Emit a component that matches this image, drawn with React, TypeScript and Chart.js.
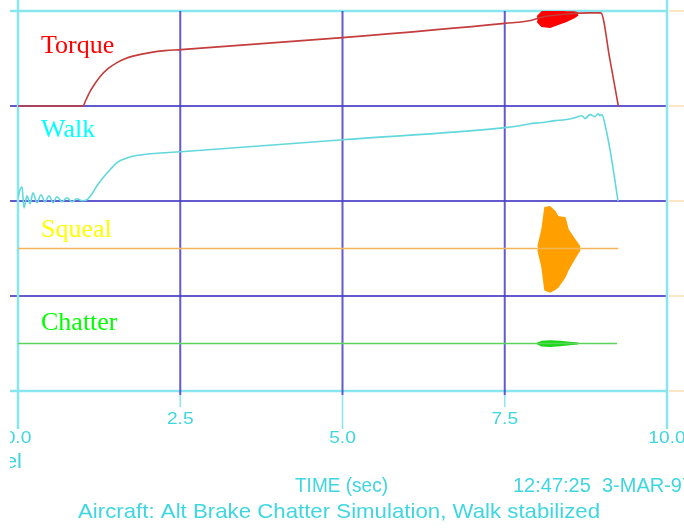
import React, { useEffect, useRef } from "react";
import { Chart, registerables } from "chart.js";

Chart.register(...registerables);

// ---- axis / layout data ----
const timeTicks = [0, 2.5, 5, 7.5, 10];
const timeTickLabels = ["0.0", "2.5", "5.0", "7.5", "10.0"];
const bandEdges = [0, 1, 2, 3, 4];
const seriesNames = ["Torque", "Walk", "Squeal", "Chatter"];
const seriesLabelColors = ["#ff0000", "#00ffff", "#ffff00", "#00ff00"];

// ---- Torque (band 3..4) ----
const torqueTime = [0, 1.0, 1.048, 1.109, 1.186, 1.263, 1.387, 1.525, 1.649, 1.772, 2.034, 2.265, 2.512, 5.0, 7.5, 7.9, 8.1, 8.5, 8.8, 8.98, 9.12, 9.25];
const torqueValue = [3.0, 3.0, 3.066, 3.151, 3.235, 3.309, 3.393, 3.456, 3.498, 3.525, 3.562, 3.583, 3.593, 3.72, 3.87, 3.9, 3.94, 3.97, 3.98, 3.98, 3.49, 3.0];
const torqueBurstTime = [8.0, 8.07, 8.2, 8.32, 8.44, 8.57, 8.63];
const torqueBurstUpper = [3.94, 3.99, 4.0, 4.0, 3.99, 3.99, 3.98];
const torqueBurstLower = [3.89, 3.84, 3.83, 3.86, 3.89, 3.93, 3.96];

// ---- Walk (band 2..3) ----
const walkTime = [0, 0.031, 0.062, 0.092, 0.139, 0.185, 0.231, 0.293, 0.354, 0.416, 0.478, 0.539, 0.601, 0.678, 0.755, 0.832, 0.909, 0.986, 1.063, 1.14, 1.217, 1.31, 1.418, 1.525, 1.649, 1.803, 2.034, 2.265, 2.512, 5.008, 7.504, 7.735, 7.889, 8.043, 8.274, 8.428, 8.582, 8.69, 8.736, 8.814, 8.891, 8.937, 8.968, 8.998, 9.045, 9.122, 9.184, 9.245];
const walkValue = [2.034, 2.118, 2.15, 1.928, 2.055, 1.971, 2.087, 1.982, 2.066, 1.992, 2.055, 1.982, 2.045, 1.992, 2.034, 1.992, 2.023, 2.003, 2.013, 2.076, 2.16, 2.244, 2.329, 2.403, 2.445, 2.476, 2.497, 2.508, 2.519, 2.645, 2.772, 2.793, 2.814, 2.824, 2.846, 2.856, 2.877, 2.898, 2.867, 2.909, 2.888, 2.919, 2.898, 2.909, 2.803, 2.54, 2.277, 2.0];

// ---- Squeal (band 1..2) ----
const squealTime = [0, 9.25];
const squealValue = [1.5, 1.5];
const squealBurstTime = [8.012, 8.074, 8.12, 8.197, 8.274, 8.32, 8.398, 8.428, 8.475, 8.582, 8.659];
const squealBurstUpper = [1.517, 1.697, 1.929, 1.939, 1.886, 1.834, 1.826, 1.823, 1.697, 1.591, 1.517];
const squealBurstLower = [1.486, 1.307, 1.064, 1.043, 1.07, 1.096, 1.17, 1.2, 1.275, 1.402, 1.486];

// ---- Chatter (band 0..1) ----
const chatterTime = [0, 9.23];
const chatterValue = [0.5, 0.5];
const chatterBurstTime = [8.0, 8.07, 8.2, 8.35, 8.5, 8.63];
const chatterBurstUpper = [0.5, 0.52, 0.526, 0.52, 0.51, 0.503];
const chatterBurstLower = [0.5, 0.476, 0.472, 0.48, 0.49, 0.497];

// ---- footer texts ----
const axisTitle = "TIME (sec)";
const stampText = "12:47:25  3-MAR-97";
const captionText = "Aircraft: Alt Brake Chatter Simulation, Walk stabilized";
const leftCutText = "el";

const pts = (xs: number[], ys: number[]) => xs.map((x, i) => ({ x, y: ys[i] }));

const PURPLE = "rgba(72,62,196,0.85)";
const CYAN_LINE = "#8ae6ee";
const CYAN_TEXT = "#3fd6e0";

function drawText(
  ctx: CanvasRenderingContext2D,
  text: string,
  x: number,
  y: number,
  font: string,
  color: string,
  scaleX: number,
  align: CanvasTextAlign,
  baseline: CanvasTextBaseline
) {
  ctx.save();
  ctx.translate(x, y);
  ctx.scale(scaleX, 1);
  ctx.font = font;
  ctx.fillStyle = color;
  ctx.textAlign = align;
  ctx.textBaseline = baseline;
  ctx.fillText(text, 0, 0);
  ctx.restore();
}

function fitScale(ctx: CanvasRenderingContext2D, text: string, font: string, width: number) {
  ctx.save();
  ctx.font = font;
  const w = ctx.measureText(text).width;
  ctx.restore();
  return width / w;
}

const gridPlugin = {
  id: "gridPlugin",
  beforeDatasetsDraw(chart: any) {
    const ctx: CanvasRenderingContext2D = chart.ctx;
    const xs = chart.scales.x;
    const ys = chart.scales.y;
    const right = xs.getPixelForValue(10);
    const bottom = ys.getPixelForValue(0);
    const top = ys.getPixelForValue(4);
    ctx.save();
    bandEdges.forEach((v) => {
      const y = ys.getPixelForValue(v);
      const edge = v === 0 || v === 4;
      ctx.strokeStyle = edge ? CYAN_LINE : PURPLE;
      ctx.lineWidth = edge ? 2.5 : 2;
      ctx.beginPath();
      ctx.moveTo(10, y);
      ctx.lineTo(right, y);
      ctx.stroke();
      ctx.strokeStyle = "rgba(245,200,120,0.6)";
      ctx.lineWidth = 1.5;
      ctx.beginPath();
      ctx.moveTo(right + 2, y);
      ctx.lineTo(684, y);
      ctx.stroke();
    });
    timeTicks.forEach((t, i) => {
      const x = xs.getPixelForValue(t);
      const edge = t === 0 || t === 10;
      const major = i % 2 === 0;
      const tickEnd = major ? bottom + 38 : bottom + 16;
      if (edge) {
        ctx.strokeStyle = CYAN_LINE;
        ctx.lineWidth = 2.5;
        ctx.beginPath();
        ctx.moveTo(x, 0);
        ctx.lineTo(x, tickEnd);
        ctx.stroke();
      } else {
        ctx.strokeStyle = PURPLE;
        ctx.lineWidth = 2;
        ctx.beginPath();
        ctx.moveTo(x, top);
        ctx.lineTo(x, bottom + 4);
        ctx.stroke();
        ctx.strokeStyle = CYAN_LINE;
        ctx.lineWidth = 1.5;
        ctx.beginPath();
        ctx.moveTo(x, bottom + 4);
        ctx.lineTo(x, tickEnd);
        ctx.stroke();
      }
    });
    ctx.restore();
  },
  afterDraw(chart: any) {
    const ctx: CanvasRenderingContext2D = chart.ctx;
    const xs = chart.scales.x;
    const ys = chart.scales.y;
    const bottom = ys.getPixelForValue(0);
    ctx.save();
    ctx.beginPath();
    ctx.rect(10, 0, 684, 529);
    ctx.clip();
    const serif = '26px "Liberation Serif", "Times New Roman", serif';
    const nameOffsets = [42, 31, 36, 34];
    seriesNames.forEach((name, i) => {
      const bandTop = ys.getPixelForValue(4 - i);
      drawText(ctx, name, 41, bandTop + nameOffsets[i], serif, seriesLabelColors[i], 1, "left", "alphabetic");
    });
    const tickFont = '16px "Liberation Sans", Arial, sans-serif';
    timeTicks.forEach((t, i) => {
      const x = xs.getPixelForValue(t);
      const y = i % 2 === 0 ? bottom + 48 : bottom + 29;
      drawText(ctx, timeTickLabels[i], x, y, tickFont, CYAN_TEXT, 1.2, "center", "middle");
    });
    const sans = '20px "Liberation Sans", Arial, sans-serif';
    drawText(ctx, leftCutText, 22, bottom + 71, sans, CYAN_TEXT, 1.1, "right", "middle");
    drawText(ctx, axisTitle, 295, bottom + 95, sans, CYAN_TEXT, fitScale(ctx, axisTitle, sans, 93), "left", "middle");
    drawText(ctx, stampText, 513, bottom + 95, sans, CYAN_TEXT, 1.0, "left", "middle");
    const cap = '21px "Liberation Sans", Arial, sans-serif';
    drawText(ctx, captionText, 78, bottom + 121, cap, CYAN_TEXT, fitScale(ctx, captionText, cap, 522), "left", "middle");
    ctx.restore();
  },
};

export default function App() {
  const ref = useRef<HTMLCanvasElement | null>(null);
  useEffect(() => {
    if (!ref.current) return;
    const line = (data: any, color: string, width: number, extra: any = {}) => ({
      data,
      borderColor: color,
      backgroundColor: color,
      borderWidth: width,
      pointRadius: 0,
      showLine: true,
      tension: 0,
      fill: false,
      ...extra,
    });
    const smooth = { cubicInterpolationMode: "monotone" };
    const chart = new Chart(ref.current, {
      type: "scatter",
      data: {
        datasets: [
          line(pts(torqueTime, torqueValue), "#c43c3c", 1.6, smooth),
          line(pts(torqueBurstTime, torqueBurstUpper), "#ff0000", 1.5, { fill: "+1" }),
          line(pts(torqueBurstTime, torqueBurstLower), "#ff0000", 1.5),
          line(pts(walkTime, walkValue), "#62d8dc", 1.6, smooth),
          line(pts(squealTime, squealValue), "#f4b458", 1.5),
          line(pts(squealBurstTime, squealBurstUpper), "#ffa000", 1.5, { fill: "+1" }),
          line(pts(squealBurstTime, squealBurstLower), "#ffa000", 1.5),
          line(pts(chatterTime, chatterValue), "#5cd45c", 1.5),
          line(pts(chatterBurstTime, chatterBurstUpper), "#18d818", 1.5, { fill: "+1" }),
          line(pts(chatterBurstTime, chatterBurstLower), "#18d818", 1.5),
        ],
      },
      options: {
        animation: false,
        responsive: false,
        devicePixelRatio: 1,
        layout: { padding: { left: 18, right: 17, top: 11, bottom: 138 } },
        plugins: { legend: { display: false }, tooltip: { enabled: false } },
        scales: {
          x: { type: "linear", min: 0, max: 10, display: false },
          y: { type: "linear", min: 0, max: 4, display: false },
        },
      },
      plugins: [gridPlugin],
    } as any);
    return () => chart.destroy();
  }, []);
  return (
    <div style={{ position: "fixed", left: 0, top: 0, width: 684, height: 529, background: "#ffffff" }}>
      <canvas ref={ref} width={684} height={529} style={{ display: "block" }} />
    </div>
  );
}
